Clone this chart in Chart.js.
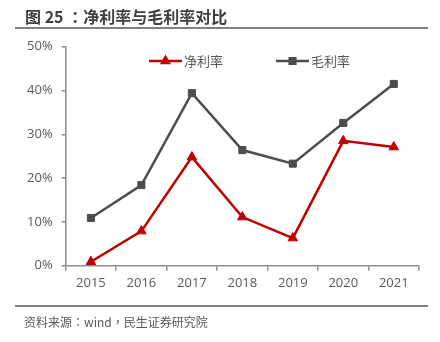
<!DOCTYPE html>
<html>
<head>
<meta charset="utf-8">
<script src="https://cdn.jsdelivr.net/npm/chart.js@4"></script>
<style>
  html, body { margin: 0; padding: 0; background: #fff; }
  #wrap { position: relative; width: 440px; height: 342px; overflow: hidden; }
  #chart { position: absolute; left: 0; top: 0; }
  .title {
    position: absolute; left: 25px; top: 4px;
    font: bold 16px "Noto Sans CJK SC", sans-serif; color: #404040;
    white-space: nowrap;
  }
  .rule { position: absolute; left: 15px; width: 413px; height: 2px; background: #808080; }
  .source {
    position: absolute; left: 24px; top: 313px;
    font: 12px "Noto Sans CJK SC", sans-serif; color: #595959;
    white-space: nowrap;
  }
  /* centred full-width punctuation */
  .p { font-family: "Noto Sans CJK TC", sans-serif; }
</style>
</head>
<body>
<div id="wrap">
  <canvas id="chart" width="440" height="342"></canvas>
  <div class="title">图 25 <span class="p">：</span>净利率与毛利率对比</div>
  <div class="rule" style="top:27px"></div>
  <div class="rule" style="top:305px"></div>
  <div class="source">资料来源<span class="p">：</span>wind<span class="p">，</span>民生证券研究院</div>
</div>
<script>
const years = ["2015", "2016", "2017", "2018", "2019", "2020", "2021"];
const netMargin = [0.9, 7.9, 24.8, 11.1, 6.3, 28.5, 27.1];
const grossMargin = [10.9, 18.4, 39.4, 26.4, 23.3, 32.6, 41.5];
const yTicks = [0, 10, 20, 30, 40, 50];

const RED = "#C00000";
const GREY = "#4D4D4D";
const AXIS = "#8c8c8c";
const TEXT = "#595959";

// legend drawn inside the plot: short line with the marker in the middle
const lineLegend = {
  id: "lineLegend",
  afterDatasetsDraw(chart, args, opts) {
    const ctx = chart.ctx;
    chart.data.datasets.forEach((ds, i) => {
      const x = opts.xs[i], y = opts.y;
      ctx.save();
      ctx.strokeStyle = ds.borderColor;
      ctx.lineWidth = 2.5;
      ctx.beginPath();
      ctx.moveTo(x, y);
      ctx.lineTo(x + 33, y);
      ctx.stroke();
      Chart.helpers.drawPoint(ctx, {
        pointStyle: ds.pointStyle, radius: 4, borderWidth: 1
      }, x + 16.5, y);
      ctx.fillStyle = ds.borderColor;
      ctx.fill();
      ctx.fillStyle = TEXT;
      ctx.font = "13px 'Noto Sans CJK SC'";
      ctx.textBaseline = "middle";
      ctx.fillText(ds.label, x + 35, y);
      ctx.restore();
    });
  }
};

new Chart(document.getElementById("chart"), {
  type: "line",
  data: {
    labels: years,
    datasets: [
      {
        label: "净利率",
        data: netMargin,
        borderColor: RED,
        backgroundColor: RED,
        borderWidth: 2.5,
        pointStyle: "triangle",
        pointRadius: 5.5,
        pointBorderWidth: 1,
        tension: 0,
        clip: false
      },
      {
        label: "毛利率",
        data: grossMargin,
        borderColor: GREY,
        backgroundColor: GREY,
        borderWidth: 2.5,
        pointStyle: "rect",
        pointRadius: 5,
        pointBorderWidth: 1,
        tension: 0,
        clip: false
      }
    ]
  },
  options: {
    responsive: false,
    animation: false,
    layout: { padding: { left: 0, top: 46.7, right: 21, bottom: 46.3 } },
    plugins: {
      legend: { display: false },
      tooltip: { enabled: false },
      lineLegend: { xs: [149, 276], y: 61 }
    },
    scales: {
      x: {
        offset: true,
        afterFit: scale => { scale.height = 30; },
        grid: {
          offset: true,
          drawOnChartArea: false,
          drawTicks: true,
          tickLength: 5,
          color: AXIS,
          lineWidth: 1.5
        },
        border: { display: true, color: AXIS, width: 1.5 },
        ticks: {
          color: TEXT,
          font: { family: "'Open Sans'", size: 13 },
          padding: 5,
          maxRotation: 0
        }
      },
      y: {
        min: 0,
        max: 50,
        afterFit: scale => { scale.width = 65.7; },
        afterBuildTicks: scale => {
          scale.ticks = yTicks.map(v => ({ value: v }));
        },
        grid: {
          drawOnChartArea: false,
          drawTicks: true,
          tickLength: 4,
          color: AXIS,
          lineWidth: 1.5
        },
        border: { display: true, color: AXIS, width: 1.5 },
        ticks: {
          color: TEXT,
          font: { family: "'Open Sans'", size: 13 },
          padding: 9,
          callback: v => v + "%"
        }
      }
    }
  },
  plugins: [lineLegend]
});
</script>
</body>
</html>
